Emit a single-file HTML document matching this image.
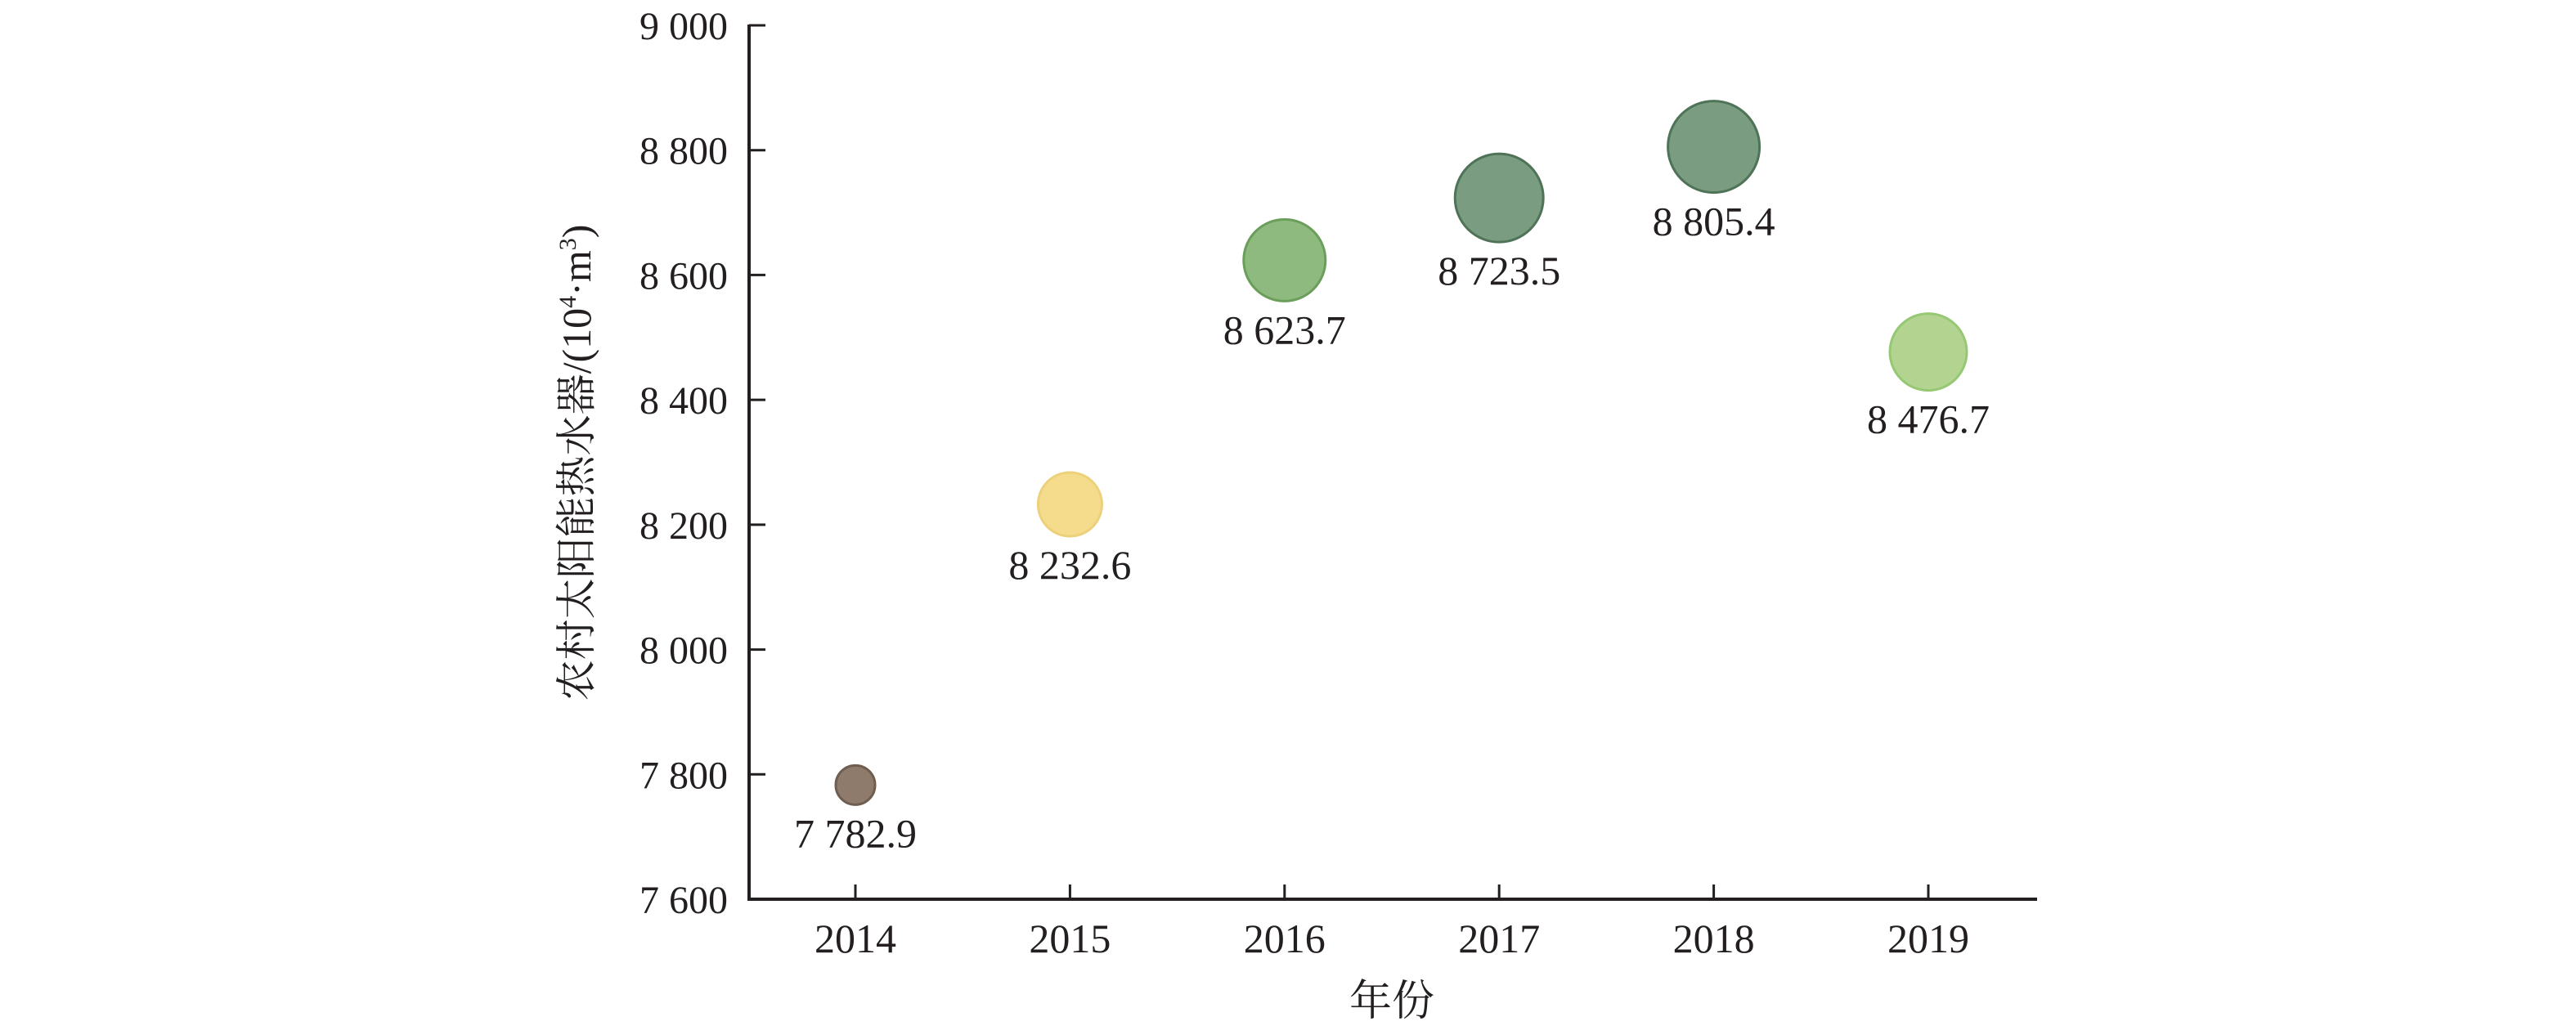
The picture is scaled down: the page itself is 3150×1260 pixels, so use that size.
<!DOCTYPE html>
<html><head><meta charset="utf-8"><style>
html,body{margin:0;padding:0;background:#fff;}
svg{display:block;font-family:"Liberation Serif","Noto Serif CJK SC",serif;}
</style></head><body>
<svg id="chart" width="3150" height="1260" viewBox="0 0 3150 1260">
<g id="axes"></g>
<g id="bubbles"></g>
<text x="1702" y="1242" font-size="52" text-anchor="middle" fill="#231f20" font-family="'Liberation Serif','Noto Serif CJK SC',serif">年份</text>
<text transform="translate(722,566) rotate(-90)" font-size="50" text-anchor="middle" fill="#231f20" font-family="'Liberation Serif','Noto Serif CJK SC',serif">农村太阳能热水器/(10<tspan font-size="30" dy="-18">4</tspan><tspan dy="18">·m</tspan><tspan font-size="30" dy="-18">3</tspan><tspan dy="18">)</tspan></text>
</svg>
<script>
const years = ["2014","2015","2016","2017","2018","2019"];
const values = [7782.9, 8232.6, 8623.7, 8723.5, 8805.4, 8476.7];
const valueLabels = ["7 782.9","8 232.6","8 623.7","8 723.5","8 805.4","8 476.7"];
const radii = [24, 39, 50, 54, 56, 47];
const fills = ["#8e7b6c","#f5dc8c","#8fba7f","#7a9c80","#7a9c80","#b2d490"];
const strokes = ["#6f5d4f","#ecd07a","#6a9e5a","#4f7356","#4f7356","#96c873"];
const yTicks = [7600,7800,8000,8200,8400,8600,8800,9000];
const yTickLabels = ["7 600","7 800","8 000","8 200","8 400","8 600","8 800","9 000"];

const NS = "http://www.w3.org/2000/svg";
const X0 = 916, Y0 = 1100, YT = 31, XR = 2491;
const yMin = 7600, yMax = 9000;
function yScale(v){ return Y0 - (v - yMin) / (yMax - yMin) * (Y0 - YT); }
function xScale(i){ return 1046 + i * 262.4; }
function mk(tag, attrs, parent){ const e = document.createElementNS(NS, tag); for (const k in attrs) e.setAttribute(k, attrs[k]); parent.appendChild(e); return e; }

const axes = document.getElementById("axes");
const ya = mk("line", {x1:X0, y1:YT-1, x2:X0, y2:Y0+2, stroke:"#231f20", "stroke-width":4}, axes);


const xa = mk("line", {x1:X0-2, y1:Y0, x2:XR, y2:Y0, stroke:"#231f20", "stroke-width":4}, axes);



yTicks.forEach((t, i) => {
  const y = yScale(t);
  const tk = mk("line", {x1:X0, y1:y, x2:X0+20, y2:y, stroke:"#231f20", "stroke-width":3}, axes);
  
  
  const lb = mk("text", {x:890, y:y+17, "font-size":48, "text-anchor":"end", fill:"#231f20"}, axes);
  lb.textContent = yTickLabels[i];
  
  
});

years.forEach((yr, i) => {
  const x = xScale(i);
  const tk = mk("line", {x1:x, y1:Y0, x2:x, y2:Y0-18, stroke:"#231f20", "stroke-width":3}, axes);
  
  
  const lb = mk("text", {x:x, y:1165, "font-size":50, "text-anchor":"middle", fill:"#231f20"}, axes);
  lb.textContent = yr;
  
  
});

const bg = document.getElementById("bubbles");
values.forEach((v, i) => {
  const x = xScale(i), y = yScale(v), r = radii[i];
  const c = mk("circle", {cx:x, cy:y, r:r, fill:fills[i], stroke:strokes[i], "stroke-width":3}, bg);
  
  
  const t = mk("text", {x:x, y:y + r + 52, "font-size":50, "text-anchor":"middle", fill:"#231f20"}, bg);
  t.textContent = valueLabels[i];
  
  
});
</script>
</body></html>
